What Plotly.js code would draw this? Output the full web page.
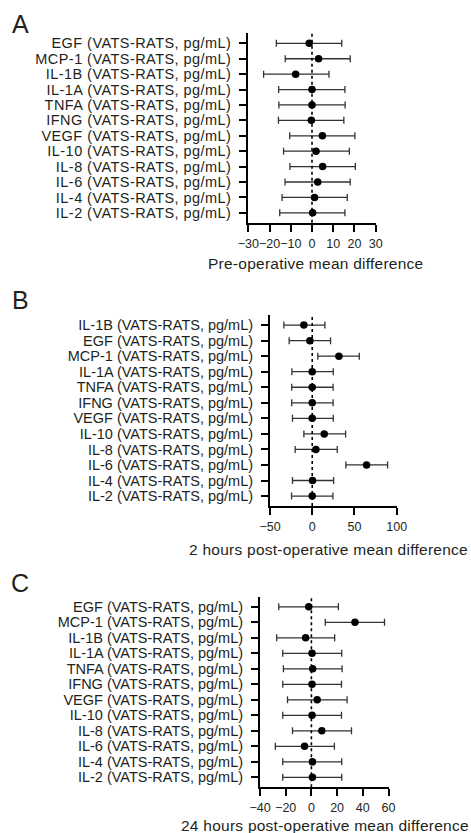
<!DOCTYPE html>
<html>
<head>
<meta charset="utf-8">
<script src="https://cdn.plot.ly/plotly-3.0.1.min.js"></script>
<style>
html,body{margin:0;padding:0;background:#fff;}
.ytick text{letter-spacing:0.45px;}
.annotation-text{letter-spacing:0.25px;}
</style>
</head>
<body>
<div id="chart" style="width:471px;height:833px;"></div>
<script>
// Panel A: pre-operative
const catsA = ['EGF','MCP-1','IL-1B','IL-1A','TNFA','IFNG','VEGF','IL-10','IL-8','IL-6','IL-4','IL-2'];
const meanA = [-1.3, 3.1, -7.7, 0.0, 0.0, -0.3, 4.9, 1.9, 5.0, 2.7, 1.2, 0.3];
const lowA  = [-16.8, -12.6, -22.8, -15.7, -15.6, -15.8, -10.5, -13.4, -10.4, -12.7, -14.1, -15.2];
const highA = [14.0, 18.0, 8.0, 15.5, 15.6, 15.0, 20.2, 17.6, 20.4, 18.0, 16.6, 15.5];

// Panel B: 2 hours post-operative
const catsB = ['IL-1B','EGF','MCP-1','IL-1A','TNFA','IFNG','VEGF','IL-10','IL-8','IL-6','IL-4','IL-2'];
const meanB = [-9.9, -2.8, 31.6, 0.0, 0.0, 0.0, 0.0, 14.2, 4.3, 64.3, 0.4, 0.0];
const lowB  = [-33.6, -27.3, 6.6, -24.1, -24.3, -24.3, -23.4, -9.9, -20.2, 39.8, -23.4, -24.5];
const highB = [15.0, 21.7, 55.7, 24.9, 24.7, 24.7, 24.9, 39.5, 29.6, 89.2, 25.3, 24.5];

// Panel C: 24 hours post-operative
const catsC = ['EGF','MCP-1','IL-1B','IL-1A','TNFA','IFNG','VEGF','IL-10','IL-8','IL-6','IL-4','IL-2'];
const meanC = [-2.1, 33.9, -4.5, 0.5, 1.0, 0.5, 4.5, 0.5, 8.1, -5.3, 0.8, 0.8];
const lowC  = [-25.4, 10.8, -27.0, -22.3, -21.8, -22.3, -18.6, -22.3, -14.7, -28.1, -22.3, -22.3];
const highC = [21.0, 56.9, 18.1, 23.6, 23.9, 23.4, 27.8, 23.4, 31.2, 17.9, 23.6, 23.6];

const unitSuffix = ' (VATS-RATS, pg/mL)';
const xTitles = ['Pre-operative mean difference', '2 hours post-operative mean difference', '24 hours post-operative mean difference'];
const panelLetters = ['A', 'B', 'C'];
const xTickVals = [[-30,-20,-10,0,10,20,30], [-50,0,50,100], [-40,-20,0,20,40,60]];
const xRanges = [[-30,30], [-50,100], [-40,60]];

const W = 471, H = 833;
const FONT = 'Liberation Sans, Arial, Helvetica, sans-serif';
const TXT = '#231f20';

// pixel geometry of each panel: [left, right, top, bottom]
const geo = [[248.3, 375.7, 33.3, 222.7], [270, 396.7, 315, 506], [260, 388.5, 596.7, 787.3]];
const panels = [[catsA, meanA, lowA, highA], [catsB, meanB, lowB, highB], [catsC, meanC, lowC, highC]];

const data = [];
const layout = {
  width: W, height: H,
  margin: {l:0, r:0, t:0, b:0},
  paper_bgcolor: '#fff', plot_bgcolor: 'rgba(0,0,0,0)',
  showlegend: false,
  font: {family: FONT, color: TXT},
  shapes: [], annotations: []
};

panels.forEach((p, k) => {
  const [cats, mean, low, high] = p;
  const idx = cats.map((c, i) => i);
  const sfx = k === 0 ? '' : String(k + 1);
  data.push({
    type: 'scatter', mode: 'markers',
    x: mean, y: idx,
    xaxis: 'x' + sfx, yaxis: 'y' + sfx,
    marker: {color: '#000', size: 7.5},
    error_x: {
      type: 'data', symmetric: false,
      array: high.map((h, i) => h - mean[i]),
      arrayminus: low.map((l, i) => mean[i] - l),
      color: '#333', thickness: 1.3, width: 3.5
    },
    hoverinfo: 'skip'
  });
  const [x0, x1, t, b] = geo[k];
  layout['xaxis' + sfx] = {
    domain: [x0 / W, x1 / W],
    anchor: 'y' + sfx,
    range: xRanges[k],
    tickmode: 'array', tickvals: xTickVals[k],
    tickangle: 0,
    showline: true, linewidth: 2, linecolor: '#000',
    ticks: 'outside', ticklen: 7, tickwidth: 2, tickcolor: '#000',
    showgrid: false, zeroline: false,
    tickfont: {family: FONT, size: 12.5, color: TXT},
    ticklabelstandoff: 1,
    fixedrange: true
  };
  layout['yaxis' + sfx] = {
    domain: [1 - b / H, 1 - t / H],
    anchor: 'x' + sfx,
    range: [11.64, -0.65],
    tickmode: 'array', tickvals: idx, ticktext: cats.map(c => c + unitSuffix),
    showline: true, linewidth: 2, linecolor: '#000',
    ticks: 'outside', ticklen: 7, tickwidth: 2, tickcolor: '#000',
    showgrid: false, zeroline: false,
    tickfont: {family: FONT, size: 14.5, color: TXT},
    ticklabelstandoff: 5,
    fixedrange: true
  };
  layout.shapes.push({
    type: 'line', xref: 'x' + sfx, yref: 'y' + sfx + ' domain',
    x0: 0, x1: 0, y0: 0, y1: 1,
    line: {color: '#000', width: 1.6, dash: 'dot'}
  });
});

const letterPos = [[20, 24], [20, 300], [20, 583]];
const titlePos = [[315, 264], [328, 549], [325, 825]];
panelLetters.forEach((L, k) => {
  layout.annotations.push({
    text: L, xref: 'paper', yref: 'paper',
    x: letterPos[k][0] / W, y: 1 - letterPos[k][1] / H,
    xanchor: 'center', yanchor: 'middle', showarrow: false,
    font: {family: FONT, size: 25, color: TXT}
  });
  layout.annotations.push({
    text: xTitles[k], xref: 'paper', yref: 'paper',
    x: titlePos[k][0] / W, y: 1 - titlePos[k][1] / H,
    xanchor: 'center', yanchor: 'middle', showarrow: false,
    font: {family: FONT, size: 15.5, color: TXT}
  });
});

Plotly.newPlot('chart', data, layout, {displayModeBar: false, staticPlot: true});
</script>
</body>
</html>
